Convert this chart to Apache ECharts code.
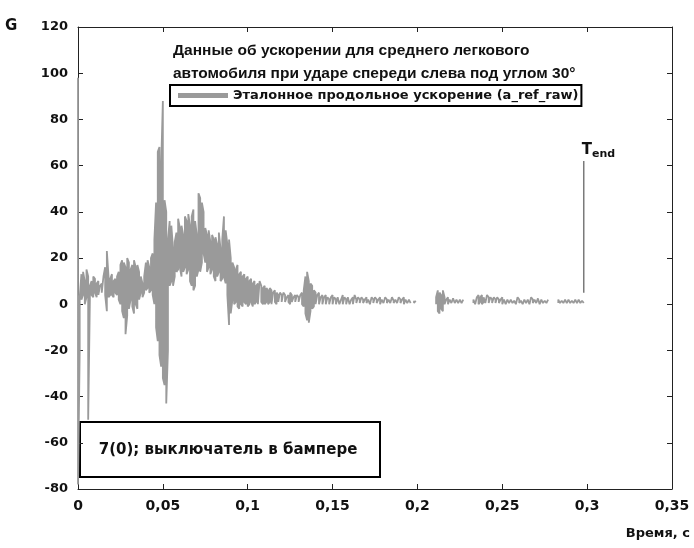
<!DOCTYPE html>
<html>
<head>
<meta charset="utf-8">
<script src="https://cdn.jsdelivr.net/npm/echarts@6/dist/echarts.min.js"></script>
<style>
  html, body { margin: 0; padding: 0; background: #fff; }
  #chart { width: 694px; height: 548px; }
</style>
</head>
<body>
<div id="chart"></div>
<script>
// Sampling step of the acceleration record, seconds
const sampleStep = 0.001;

// Upper envelope of the acceleration trace per sample, G (null = no data)
const upper = [
  98, 3, 13, 14, 10, 15, 12, 8, 10, 12,
  11, 9, 10, 8, 9, 12, 16, 23, 12, 11,
  13, 10, 11, 12, 14, 17, 19, 18, 16, 20,
  18, 15, 17, 19, 16, 17, 14, 12, 9, 12,
  18, 19, 16, 20, 22, 28, 44, 66, 68, 60,
  88, 45, 40, 28, 36, 34, 24, 27, 31, 37,
  33, 34, 30, 38, 36, 39, 34, 38, 41, 36,
  30, 48, 46, 44, 40, 33, 30, 32, 27, 30,
  28, 29, 26, 31, 24, 28, 38, 32, 26, 28,
  20, 18, 16, 15, 17, 13, 14, 12, 13, 11,
  12, 10, 11, 9, 10, 8, 9, 10, 8, 7,
  8, 7, 6, 7, 6, 5, 6, 5, 4, 5,
  4, 5, 4, 3, 4, 5, 4, 3, 4, 4,
  3, 4, 5, 6, 12, 14, 10, 9, 8, 6,
  5, 4, 5, 3, 4, 3, 4, 3, 2, 3,
  4, 3, 2, 3, 3, 2, 4, 3, 2, 3,
  3, 2, 3, 4, 2, 3, 2, 3, 2, 2,
  3, 2, 2, 3, 2, 3, 2, 2, 3, 2,
  2, 3, 2, 2, 2, 3, 1.5, 2, 2, 3,
  2, 2, 3, 2, 1.5, 2, 2, null, 1.5, 1.5,
  null, null, null, null, null, null, null, null, null, null,
  null, 3, 6, 5, 4, 6, 3, 2, 3, 2,
  2, 2.5, 2, 2, 2, 2, 2, 2, null, null,
  null, null, null, 2, 2, 3, 4, 3, 4, 3,
  3, 4, 3, 3, 2, 3, 2, 3, 2, 2,
  3, 2, 2, 2, 1.5, 2, 2, 1.5, 2, 3,
  2, 1.5, 2, 2, 1.5, 2, 2.5, 3, 2, 2,
  2, 2.5, 2, 2, 2, 1.5, 2, 2, null, null,
  null, null, null, 2, 2, 1.5, 2, 2, 1.5, 2,
  2, 1.5, 2, 2, 1.5, 2, 2, 1.5, 2
];

// Lower envelope of the acceleration trace per sample, G (null = no data)
const lower = [
  -78, -20, 2, 4, 0, 3, -50, 2, 4, 3,
  5, 3, 4, 4, 5, 5, 4, -3, 3, 4,
  4, 3, 5, 4, 2, 0, -3, -6, -13, -5,
  -2, 2, -1, -4, 0, -2, 2, 5, 3, 5,
  6, 7, 5, 6, 4, 0, -10, -16, -22, -27,
  -32, -35, -43, -20, 8, 10, 8, 12, 14, 15,
  16, 12, 14, 16, 13, 15, 10, 8, 6, 8,
  12, 15, 14, 18, 22, 18, 14, 16, 13, 15,
  12, 10, 12, 14, 10, 11, 12, 9, 4, -9,
  -4, 2, 0, 1, -1, -2, 0, -1, 1, 0,
  -1, 0, 1, -1, 0, 1, 0, 0, 1, 0,
  0, 1, 0, 1, 0, 0.5, 1, 0, 1, 0.5,
  1, 0.5, 1, 0.5, 1, 0, 1, 0.5, 1, 0.5,
  1, 0.5, 0, -1, -4, -7, -8, -3, -2, -1,
  0, 0.5, 0, 0.5, 0, 0.5, 0, 0.5, 0, 0.5,
  0, 0.5, 0, 0.5, 0, 0.5, 0, 0.5, 0, 0.5,
  0, 0.5, 0, 0, 0.5, 0, 0.5, 0, 0.5, 0.5,
  0.5, 0.5, 0, 0.5, 0.5, 0, 0.5, 0.5, 0, 0.5,
  0.5, 0, 0.5, 0.5, 0.5, 0, 0.5, 0.5, 0.5, 0,
  0.5, 0.5, 0, 0.5, 0.5, 0.5, 0.5, null, 0.5, 0.5,
  null, null, null, null, null, null, null, null, null, null,
  null, 0, -3, -4, -2, -3, 0, 0.5, 0, 0.5,
  0.5, 0, 0.5, 0.5, 0.5, 0.5, 0.5, 0.5, null, null,
  null, null, null, 0.5, 0, 0.5, 0, 1, 0, 1,
  0.5, 0, 0.5, 0, 0.5, 0, 0.5, 0, 0.5, 0.5,
  0, 0.5, 0, 0.5, 0.5, 0, 0.5, 0.5, 0, 0.5,
  0.5, 0.5, 0, 0.5, 0.5, 0.5, 0, 0.5, 0.5, 0.5,
  0.5, 0.5, 0, 0.5, 0.5, 0.5, 0.5, 0.5, null, null,
  null, null, null, 0.5, 0.5, 0.5, 0.5, 0.5, 0.5, 0.5,
  0.5, 0.5, 0.5, 0.5, 0.5, 0.5, 0.5, 0.5, 0.5
];

// End-of-event marker T_end: time and vertical extent, G
const tendLine = [[0.298, 5], [0.298, 62]];

// Axis ranges and ticks
const xTicks = { min: 0, max: 0.35, interval: 0.05 };
const yTicks = { min: -80, max: 120, interval: 20 };

// Texts
const seriesName = 'Эталонное продольное ускорение (a_ref_raw)';
const chartTitle = 'Данные об ускорении для среднего легкового\nавтомобиля при ударе спереди слева под углом 30°';
const noteText = '7(0); выключатель в бампере';
const xName = 'Время, с';
const yName = 'G';

// Dense trace: a vertical stroke from upper to lower at every sample,
// alternating direction so the connecting segments follow the envelopes.
const trace = [];
for (let i = 0; i < upper.length; i++) {
  const t = +(i * sampleStep).toFixed(4);
  if (upper[i] === null || lower[i] === null) {
    trace.push([t, null]);
    continue;
  }
  if (i % 2 === 0) {
    trace.push([t, upper[i]], [t, lower[i]]);
  } else {
    trace.push([t, lower[i]], [t, upper[i]]);
  }
}

const FONT = "'DejaVu Sans', 'Liberation Sans', Arial, sans-serif";
const TITLE_FONT = "'Liberation Sans', Arial, sans-serif";
const fmtX = v => (v === 0 ? '0' : String(parseFloat(v.toFixed(2))).replace('.', ','));

const chart = echarts.init(document.getElementById('chart'), null, { renderer: 'canvas' });

const axisCommon = {
  axisLine: { show: true, onZero: false, lineStyle: { color: '#222', width: 1 } },
  axisTick: { show: true, inside: true, length: 5, lineStyle: { color: '#222' } },
  splitLine: { show: false }
};

chart.setOption({
  animation: false,
  backgroundColor: '#fff',
  grid: { left: 78, right: 22, top: 27, bottom: 59, containLabel: false },
  title: {
    text: chartTitle,
    left: 168,
    top: 34,
    textStyle: { fontFamily: TITLE_FONT, fontSize: 15.5, fontWeight: 'bold', color: '#111', lineHeight: 23 }
  },
  legend: {
    data: [{ name: seriesName, icon: 'rect' }],
    left: 170,
    top: 85,
    itemWidth: 50,
    itemHeight: 5,
    itemGap: 8,
    padding: [4, 3, 4, 8],
    borderColor: '#000',
    borderWidth: 2,
    textStyle: { fontFamily: FONT, fontSize: 13, fontWeight: 'bold', color: '#111' }
  },
  xAxis: [
    Object.assign({
      type: 'value', position: 'bottom',
      min: xTicks.min, max: xTicks.max, interval: xTicks.interval,
      axisLabel: { formatter: fmtX, margin: 10, fontFamily: FONT, fontSize: 14, fontWeight: 'bold', color: '#111' }
    }, axisCommon),
    Object.assign({
      type: 'value', position: 'top',
      min: xTicks.min, max: xTicks.max, interval: xTicks.interval,
      axisLabel: { show: false }
    }, axisCommon)
  ],
  yAxis: [
    Object.assign({
      type: 'value', position: 'left',
      min: yTicks.min, max: yTicks.max, interval: yTicks.interval,
      axisLabel: { margin: 10, fontFamily: FONT, fontSize: 13, fontWeight: 'bold', color: '#111' }
    }, axisCommon),
    Object.assign({
      type: 'value', position: 'right',
      min: yTicks.min, max: yTicks.max, interval: yTicks.interval,
      axisLabel: { show: false }
    }, axisCommon)
  ],
  series: [
    {
      name: seriesName,
      type: 'line',
      xAxisIndex: 0,
      yAxisIndex: 0,
      data: trace,
      showSymbol: false,
      symbol: 'none',
      connectNulls: false,
      color: '#9a9a9a',
      lineStyle: { color: '#9a9a9a', width: 1.8 },
      z: 1
    },
    {
      name: 'T_end',
      type: 'line',
      data: tendLine,
      symbol: 'none',
      color: '#7a7a7a',
      lineStyle: { color: '#7a7a7a', width: 1.5 },
      markPoint: {
        symbol: 'circle',
        symbolSize: 0,
        data: [{ coord: tendLine[1] }],
        label: {
          show: true,
          position: [-2, -20],
          formatter: '{t|T}{s|end}',
          rich: {
            t: { fontFamily: FONT, fontSize: 15, fontWeight: 'bold', color: '#111' },
            s: { fontFamily: FONT, fontSize: 11, fontWeight: 'bold', color: '#111', padding: [8, 0, 0, 0] }
          }
        }
      },
      z: 2
    }
  ],
  graphic: [
    {
      type: 'text', left: 5, top: 19,
      style: { text: yName, font: "bold 15px 'DejaVu Sans', Arial, sans-serif", fill: '#111' }
    },
    {
      type: 'text', right: 4, top: 527,
      style: { text: xName, font: "bold 13px 'DejaVu Sans', Arial, sans-serif", fill: '#111' }
    },
    {
      type: 'group', left: 79, top: 421,
      children: [
        {
          type: 'rect',
          shape: { x: 0, y: 0, width: 300, height: 55 },
          style: { fill: '#fff', stroke: '#000', lineWidth: 2 }
        },
        {
          type: 'text', x: 148, y: 28,
          style: {
            text: noteText, align: 'center', verticalAlign: 'middle',
            font: "bold 15px 'DejaVu Sans', Arial, sans-serif", fill: '#111'
          }
        }
      ]
    }
  ]
});
</script>
</body>
</html>
